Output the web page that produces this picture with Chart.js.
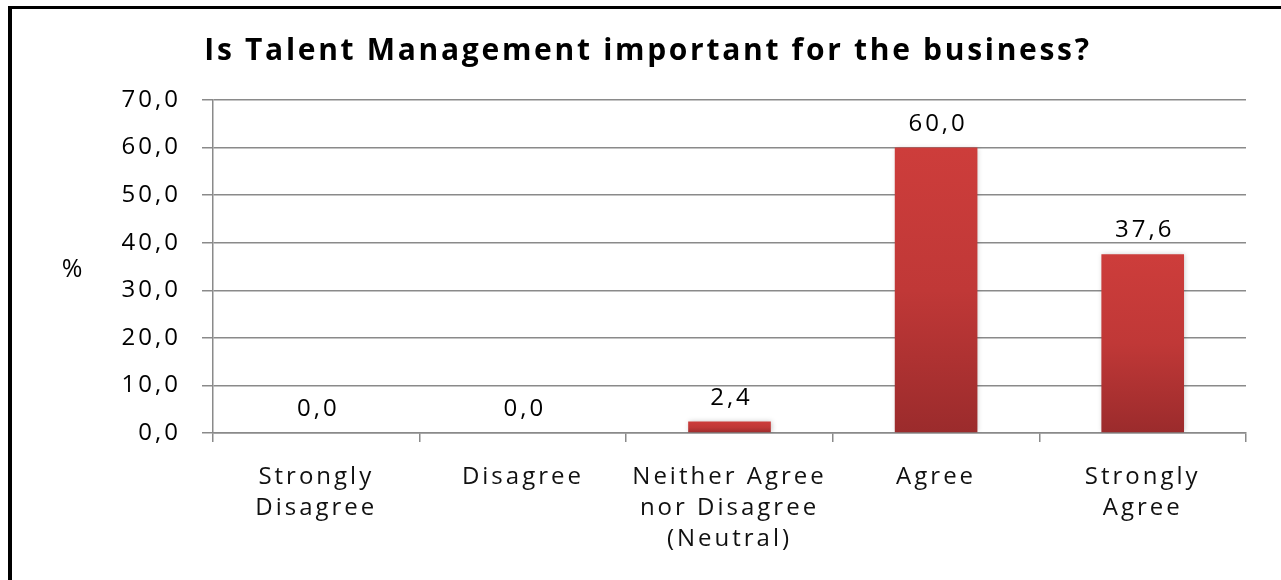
<!DOCTYPE html>
<html>
<head>
<meta charset="utf-8">
<script src="https://cdn.jsdelivr.net/npm/chart.js@4"></script>
<style>
  html, body { margin: 0; padding: 0; background: #fff; }
  #wrap { position: relative; width: 1281px; height: 580px; overflow: hidden; }
  #frame { position: absolute; left: 8px; top: 6px; right: -10px; bottom: -10px;
           border-left: 4px solid #000; border-top: 3px solid #000; }
  canvas { position: absolute; left: 0; top: 0; }
</style>
</head>
<body>
<div id="wrap">
  <div id="frame"></div>
  <canvas id="talentChart" width="1281" height="580"></canvas>
</div>
<script>
const categories = [
    ["Strongly", "Disagree"],
    ["Disagree"],
    ["Neither Agree", "nor Disagree", "(Neutral)"],
    ["Agree"],
    ["Strongly", "Agree"]
];
const percentages = [0.0, 0.0, 2.4, 60.0, 37.6];
const yTicks = [0, 10, 20, 30, 40, 50, 60, 70];
const chartTitle = "Is Talent Management important for the business?";
const axisUnit = "%";

const FONT = "'Open Sans', 'DejaVu Sans', sans-serif";
const SIZE = 24;
const SPACING = "3px";
const fmt = v => v.toFixed(1).replace(".", ",");

// wide letter spacing for all text on the canvas
const spacing = {
    id: "spacing",
    beforeUpdate(chart) { chart.ctx.letterSpacing = SPACING; },
    beforeDraw(chart) { chart.ctx.letterSpacing = SPACING; }
};

const barShadow = {
    id: "barShadow",
    beforeDatasetsDraw(chart) {
        const ctx = chart.ctx;
        ctx.save();
        ctx.shadowColor = "rgba(0,0,0,0.22)";
        ctx.shadowBlur = 5;
        ctx.shadowOffsetX = 1;
    },
    afterDatasetsDraw(chart) { chart.ctx.restore(); }
};

const labels = {
    id: "labels",
    afterDraw(chart) {
        const ctx = chart.ctx;
        const meta = chart.getDatasetMeta(0);
        ctx.save();
        ctx.fillStyle = "#000";
        ctx.textAlign = "center";
        ctx.textBaseline = "alphabetic";
        ctx.font = SIZE + "px " + FONT;
        ctx.letterSpacing = SPACING;
        meta.data.forEach((bar, i) => {
            ctx.fillText(fmt(percentages[i]), bar.x + 2, bar.y - 17);
        });
        // unit label left of the value axis
        const area = chart.chartArea;
        ctx.font = "25px " + FONT;
        ctx.letterSpacing = "0px";
        ctx.fillText(axisUnit, 72, (area.top + area.bottom) / 2 + 10);
        // title
        ctx.font = "bold 30px " + FONT;
        ctx.letterSpacing = "2.7px";
        ctx.fillText(chartTitle, 648, 60);
        ctx.restore();
    }
};

const ctx = document.getElementById("talentChart").getContext("2d");

new Chart(ctx, {
    type: "bar",
    data: {
        labels: categories,
        datasets: [{
            data: percentages,
            barPercentage: 0.4,
            categoryPercentage: 1.0,
            backgroundColor: function (c) {
                const chart = c.chart;
                if (!chart.chartArea || !chart.scales.y) return "#c0383a";
                const y = chart.scales.y;
                const top = y.getPixelForValue(percentages[c.dataIndex]);
                const base = y.getPixelForValue(0);
                if (base - top < 1) return "#c83a38";
                const g = chart.ctx.createLinearGradient(0, top, 0, base);
                g.addColorStop(0, "#cd3d3b");
                g.addColorStop(0.5, "#c03837");
                g.addColorStop(1, "#9b2b2c");
                return g;
            }
        }]
    },
    options: {
        responsive: false,
        animation: false,
        layout: { padding: { left: 0, right: 35, top: 100, bottom: 0 } },
        plugins: {
            legend: { display: false },
            title: { display: false },
            tooltip: { enabled: false }
        },
        scales: {
            x: {
                offset: true,
                grid: {
                    offset: true,
                    drawOnChartArea: false,
                    tickLength: 9,
                    color: "#8a8a8a",
                    lineWidth: 1.5
                },
                border: { color: "#8a8a8a", width: 1.5 },
                ticks: {
                    autoSkip: false,
                    maxRotation: 0,
                    padding: 19,
                    color: "#111",
                    font: { family: FONT, size: SIZE, lineHeight: 1.31 }
                },
                afterFit(s) { s.height = 147; }
            },
            y: {
                min: 0,
                max: 70,
                afterBuildTicks(s) { s.ticks = yTicks.map(v => ({ value: v })); },
                grid: {
                    tickLength: 11,
                    color: "#8a8a8a",
                    lineWidth: 1.5
                },
                border: { color: "#8a8a8a", width: 1.5 },
                ticks: {
                    padding: 21,
                    color: "#000",
                    font: { family: FONT, size: SIZE },
                    callback: v => fmt(v)
                },
                afterFit(s) { s.width = 213; }
            }
        }
    },
    plugins: [spacing, barShadow, labels]
});
</script>
</body>
</html>
